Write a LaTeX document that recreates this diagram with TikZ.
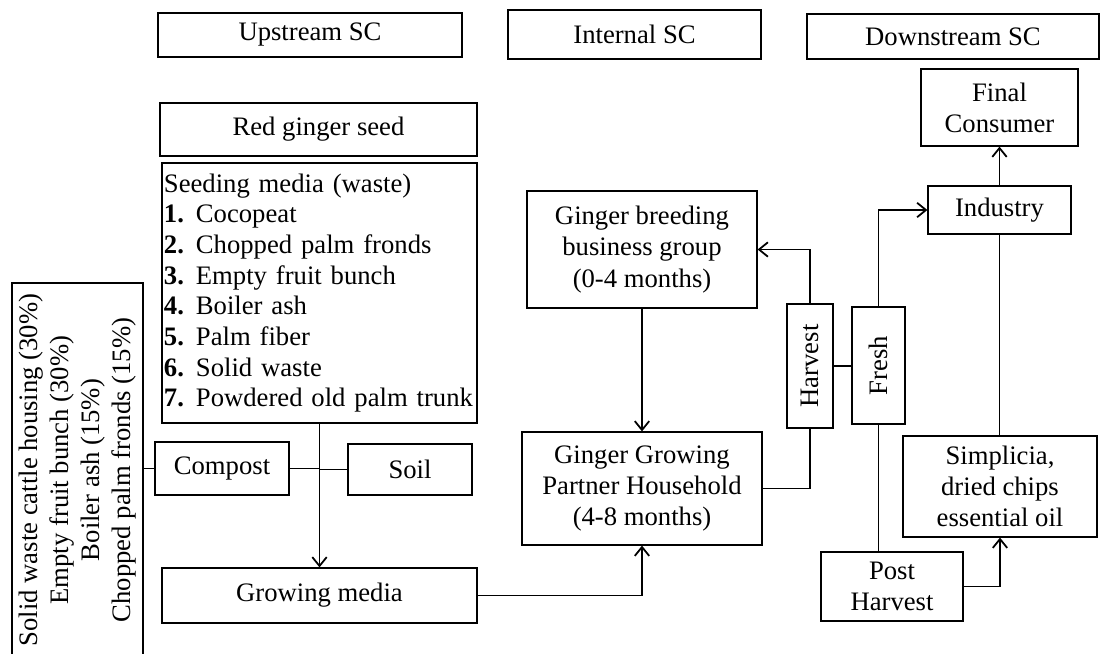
\documentclass[tikz,border=0pt]{standalone}
\usepackage{fontspec}
\setmainfont{Liberation Serif}
\usepackage{graphicx}
\usetikzlibrary{arrows.meta}
\newcommand\itm[1]{\makebox[14.4pt][l]{\textbf{#1}}}
\begin{document}
\begin{tikzpicture}[x=0.45pt,y=-0.45pt,
  box/.style={draw=black, line width=0.55pt, inner sep=0pt, align=center, font=\fontsize{12}{14}\selectfont},
  wh/.style 2 args={minimum width=#1*0.45pt, minimum height=#2*0.45pt},
  link/.style={line width=0.8pt},
  arr/.style={line width=0.8pt, -{Straight Barb[length=4pt,width=6.5pt]}}]
\useasboundingbox (0,0) rectangle (1100,654);
\clip (0,0) rectangle (1100,654);
% header boxes
\node[box, wh={304}{44}] (up) at (310,35) {Upstream SC};
\node[box, wh={253}{49}] (int) at (634.5,34.5) {Internal SC};
\node[box, wh={292}{45}] (down) at (953,36.5) {Downstream SC};
% upstream
\node[box, wh={317}{53}] (seed) at (318.5,129.5) {Red ginger seed};
\node[box, wh={315}{260}, text width=140pt, align=left, inner xsep=0.5pt, font=\fontsize{12}{13.8}\selectfont] (media) at (319.5,293)
  {Seeding media (waste)\\
   \itm{1.}Cocopeat\\
   \itm{2.}Chopped palm fronds\\
   \itm{3.}Empty fruit bunch\\
   \itm{4.}Boiler ash\\
   \itm{5.}Palm fiber\\
   \itm{6.}Solid waste\\
   \itm{7.}Powdered old palm trunk};
\node[box, wh={131}{374}] (left) at (77.5,470)
  {\rotatebox{90}{\begin{tabular}{@{}c@{}}Solid waste cattle housing (30\%)\\Empty fruit bunch (30\%)\\Boiler ash (15\%)\\Chopped palm fronds (15\%)\end{tabular}}};
\node[box, wh={134}{53}] (comp) at (222,468.5) {Compost};
\node[box, wh={124}{51}] (soil) at (410,469.5) {Soil};
\node[box, wh={315}{55}] (grow) at (319.5,595.5) {Growing media};
% internal
\node[box, wh={230}{117}] (breed) at (642,249.5) {Ginger breeding\\business group\\(0-4 months)};
\node[box, wh={240}{113}] (gg) at (642,488.5) {Ginger Growing\\Partner Household\\(4-8 months)};
\node[box, wh={46}{124}] (harv) at (810,366) {\rotatebox{90}{Harvest}};
\node[box, wh={53}{117}] (fresh) at (878.5,365.5) {\rotatebox{90}{Fresh}};
% downstream
\node[box, wh={157}{77}] (fc) at (999.5,107.5) {Final\\Consumer};
\node[box, wh={143}{48}] (ind) at (999.5,210) {Industry};
\node[box, wh={194}{101}] (simp) at (1000,486.5) {Simplicia,\\dried chips\\essential oil};
\node[box, wh={142}{69}] (post) at (892,586.5) {Post\\Harvest};
% connectors
\draw[link] (comp.west) -- (comp.west -| left.east);
\coordinate (j) at (media.south |- comp.east);
\draw[link] (comp.east) -- (j);
\draw[link] (soil.west) -- (soil.west -| j);
\draw[arr] (media.south) -- (grow.north);
\draw[arr] (grow.east) -| (gg.south);
\draw[arr] (breed.south) -- (gg.north);
\draw[link] (gg.east) -| (harv.south);
\draw[arr] (harv.north) |- (breed.east);
\draw[link] (harv.east) -- (harv.east -| fresh.west);
\draw[arr] (fresh.north) |- (ind.west);
\draw[arr] (ind.north) -- (fc.south);
\draw[link] (ind.south) -- (ind.south |- simp.north);
\draw[link] (fresh.south) -- (fresh.south |- post.north);
\draw[arr] (post.east) -| (simp.south);
\end{tikzpicture}
\end{document}
